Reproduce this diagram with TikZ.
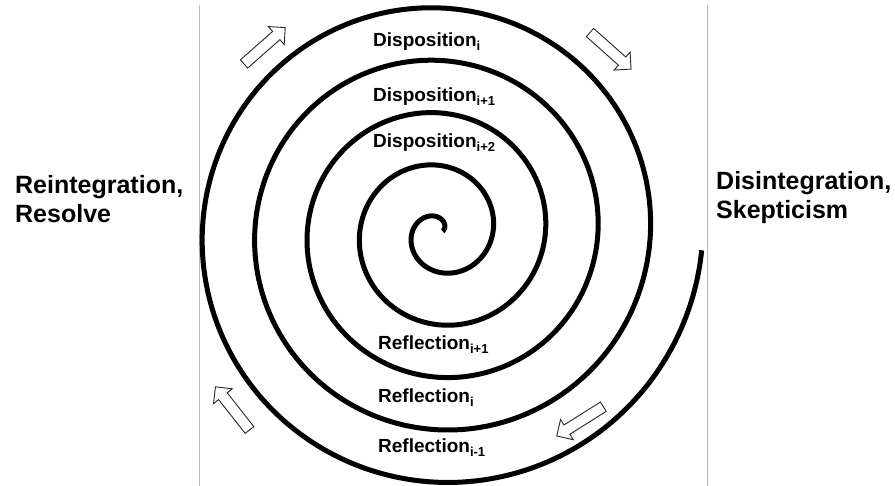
\documentclass[tikz,border=0pt]{standalone}
\usepackage{fontspec}
\setmainfont{Liberation Sans}
\newcommand\ringsub[1]{\raisebox{-4pt}{\fontsize{13}{13}\selectfont #1}}
\begin{document}
\begin{tikzpicture}[x=1pt,y=-1pt,
  spiral/.style={line width=5pt, black},
  guide/.style={line width=1pt, black!28},
  flowarrow/.style={draw=black!85, line width=0.9pt, fill=white, line join=miter},
  biglabel/.style={font=\fontsize{25}{29}\selectfont\bfseries, align=left, anchor=north west, inner sep=0pt},
  ringlabel/.style={font=\fontsize{19}{21}\selectfont\bfseries, anchor=base west, inner sep=0pt},
  blockarrow/.pic={\path[flowarrow] (0,-5.5) -- (43,-5.5) -- (43,-12) -- (55,0) -- (43,12) -- (43,5.5) -- (0,5.5) -- cycle;}
]
\useasboundingbox (0,0) rectangle (895,486);
\draw[guide] (199.5,5) -- (199.5,486);
\draw[guide] (707.5,5) -- (707.5,486);
\draw[spiral] plot[domain=-345:1436, samples=500, smooth, variable=\t]
  ({439.5+(53.5+0.1458*\t)*cos(\t)}, {232-(53.5+0.1458*\t)*sin(\t)});
\pic[rotate=41.4] at (244,64) {blockarrow};
\pic[rotate=-41.7] at (590,32.5) {blockarrow};
\pic[rotate=128.2] at (249.5,430) {blockarrow};
\pic[rotate=-147.8] at (603.3,406.7) {blockarrow};
\node[biglabel] (reint) at (15,175) {Reintegration,\\Resolve};
\node[biglabel] (disint) at (716,171) {Disintegration,\\Skepticism};
\node[ringlabel] (disp0) at (373,47) {Disposition\ringsub{i}};
\node[ringlabel] (disp1) at (373,102) {Disposition\ringsub{i+1}};
\node[ringlabel] (disp2) at (373,148) {Disposition\ringsub{i+2}};
\node[ringlabel] (refl1) at (378,350) {Reflection\ringsub{i+1}};
\node[ringlabel] (refl0) at (378,403) {Reflection\ringsub{i}};
\node[ringlabel] (reflm) at (378,453) {Reflection\ringsub{i-1}};
\end{tikzpicture}
\end{document}
